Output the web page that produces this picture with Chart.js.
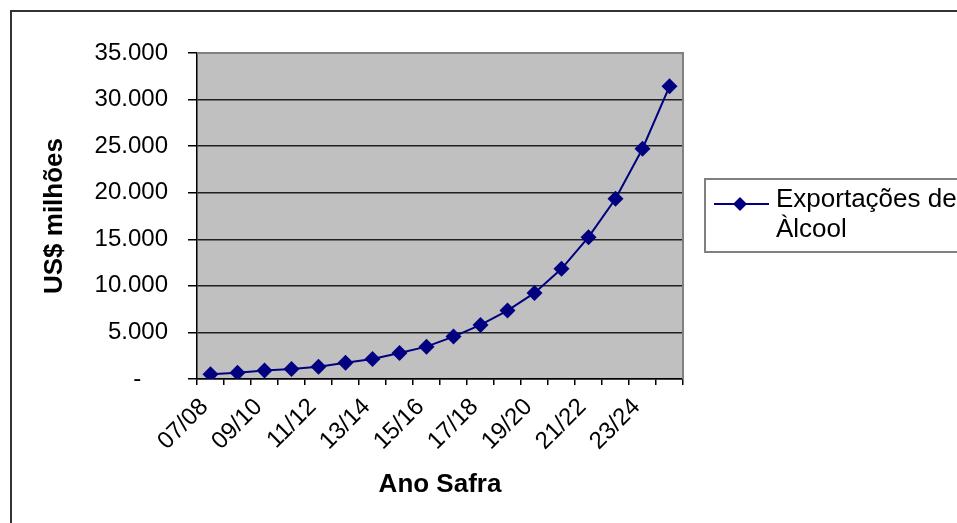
<!DOCTYPE html>
<html>
<head>
<meta charset="utf-8">
<script src="https://cdn.jsdelivr.net/npm/chart.js@4"></script>
<style>
  html, body { margin: 0; padding: 0; background: #fff; }
  #wrap { width: 957px; height: 523px; position: relative; }
</style>
</head>
<body>
<div id="wrap"><canvas id="c" width="957" height="523"></canvas></div>
<script>
const categories = ['07/08','08/09','09/10','10/11','11/12','12/13','13/14','14/15','15/16','16/17','17/18','18/19','19/20','20/21','21/22','22/23','23/24','24/25'];
const exportValues = [500, 680, 900, 1075, 1325, 1755, 2150, 2795, 3475, 4550, 5805, 7345, 9245, 11825, 15230, 19350, 24720, 31420];
const seriesName = ['Exportações de', 'Àlcool'];
const yTitle = 'US$ milhões';
const xTitle = 'Ano Safra';
const yMin = 0, yMax = 35000, yStep = 5000;

const FONT = "'Liberation Sans', Arial, sans-serif";
const NAVY = '#000080';

function fmt(v) {
  if (v === 0) return '-    ';
  return String(v).replace(/\B(?=(\d{3})+(?!\d))/g, '.');
}

const decor = {
  id: 'decor',
  beforeDraw(chart) {
    const ctx = chart.ctx, a = chart.chartArea;
    ctx.save();
    ctx.fillStyle = '#fff';
    ctx.fillRect(0, 0, chart.width, chart.height);
    ctx.strokeStyle = '#333';
    ctx.lineWidth = 2;
    ctx.beginPath();
    ctx.moveTo(11, chart.height + 5);
    ctx.lineTo(11, 11);
    ctx.lineTo(chart.width + 5, 11);
    ctx.stroke();
    ctx.fillStyle = '#C0C0C0';
    ctx.fillRect(a.left, a.top, a.right - a.left, a.bottom - a.top);
    ctx.restore();
  },
  beforeDatasetsDraw(chart) {
    const ctx = chart.ctx, a = chart.chartArea;
    ctx.save();
    ctx.strokeStyle = '#808080';
    ctx.lineWidth = 2;
    ctx.beginPath();
    ctx.moveTo(a.left, a.top);
    ctx.lineTo(a.right, a.top);
    ctx.lineTo(a.right, a.bottom);
    ctx.stroke();
    ctx.restore();
  },
  afterDraw(chart) {
    const ctx = chart.ctx;
    ctx.save();
    ctx.strokeStyle = '#808080';
    ctx.lineWidth = 2;
    ctx.strokeRect(705, 179, 400, 73);
    ctx.strokeStyle = NAVY;
    ctx.lineWidth = 2;
    ctx.beginPath();
    ctx.moveTo(714, 204);
    ctx.lineTo(769, 204);
    ctx.stroke();
    ctx.fillStyle = NAVY;
    ctx.beginPath();
    ctx.moveTo(740, 197);
    ctx.lineTo(747, 204);
    ctx.lineTo(740, 211);
    ctx.lineTo(733, 204);
    ctx.closePath();
    ctx.fill();
    ctx.fillStyle = '#000';
    ctx.font = '26px ' + FONT;
    ctx.textBaseline = 'middle';
    ctx.textAlign = 'left';
    ctx.fillText(seriesName[0], 776, 200);
    ctx.fillText(seriesName[1], 776, 230);
    ctx.restore();
  }
};

new Chart(document.getElementById('c'), {
  type: 'line',
  data: {
    labels: categories,
    datasets: [{
      label: seriesName.join(' '),
      data: exportValues,
      borderColor: NAVY,
      backgroundColor: NAVY,
      borderWidth: 2,
      tension: 0,
      pointStyle: 'rectRot',
      pointRadius: 8,
      pointHoverRadius: 8,
      pointBackgroundColor: NAVY,
      pointBorderColor: NAVY,
      pointBorderWidth: 0
    }]
  },
  options: {
    responsive: false,
    animation: false,
    events: [],
    layout: { padding: { top: 53, right: 274, bottom: 0, left: 0 } },
    plugins: { legend: { display: false }, tooltip: { enabled: false } },
    scales: {
      x: {
        type: 'category',
        offset: true,
        afterFit(s) { s.height = 144; },
        grid: { offset: true, drawOnChartArea: false, drawTicks: true, tickLength: 6, tickColor: '#000', lineWidth: 1.5 },
        border: { display: true, color: '#000', width: 1.5 },
        ticks: {
          autoSkip: false, minRotation: 45, maxRotation: 45, padding: 8, labelOffset: -6,
          color: '#000', font: { family: FONT, size: 24 },
          callback(v, i) { return i % 2 === 0 ? this.getLabelForValue(v) : ''; }
        },
        title: { display: true, text: xTitle, color: '#000', font: { family: FONT, size: 26, weight: 'bold' }, padding: { top: 0, bottom: 23 } }
      },
      y: {
        min: yMin, max: yMax,
        afterFit(s) { s.width = 197; },
        grid: {
          color(c) { return c.tick && c.tick.value === yMax ? '#808080' : '#202020'; },
          lineWidth: 1.5, tickLength: 9, tickColor: '#000', drawTicks: true
        },
        border: { display: true, color: '#000', width: 1.5 },
        ticks: {
          stepSize: yStep, padding: 20, color: '#000',
          font: { family: FONT, size: 24 },
          callback(v) { return fmt(v); }
        },
        title: { display: true, text: yTitle, color: '#000', font: { family: FONT, size: 26, weight: 'bold' }, padding: { top: 39, bottom: 0 } }
      }
    }
  },
  plugins: [decor]
});
</script>
</body>
</html>
